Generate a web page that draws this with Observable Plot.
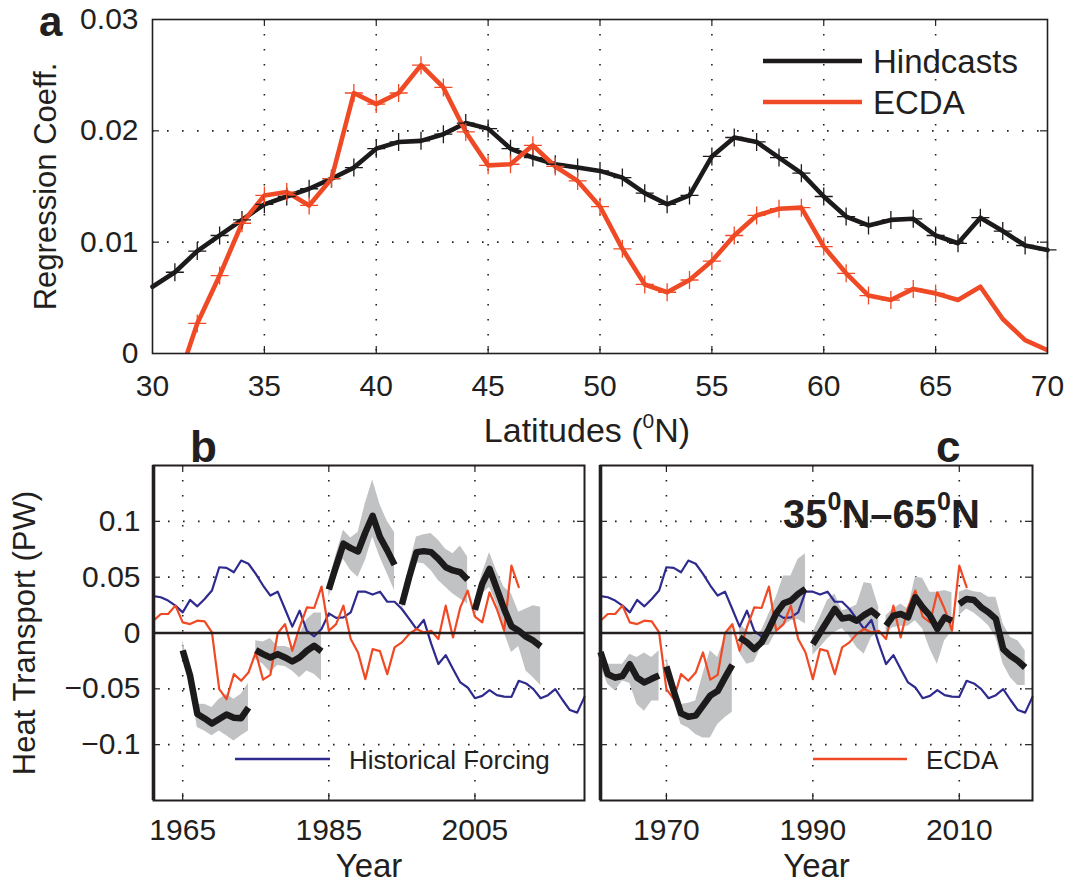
<!DOCTYPE html>
<html>
<head>
<meta charset="utf-8">
<script src="https://cdn.jsdelivr.net/npm/d3@7"></script>
<script src="https://cdn.jsdelivr.net/npm/@observablehq/plot@0.6"></script>
<style>
  body { margin: 0; background: #fff; }
  #wrap { position: relative; width: 1067px; height: 883px; background: #fff; overflow: hidden; }
  #wrap svg { position: absolute; }
</style>
</head>
<body>
<div id="wrap"></div>
<script>
// ---------------- Panel a data ----------------
const latitudes = d3.range(30, 71);
const hindcasts = [0.0060, 0.0073, 0.0092, 0.0106, 0.0120, 0.0134, 0.0141, 0.0148, 0.0157, 0.0167,
  0.0184, 0.0190, 0.0191, 0.0197, 0.0207, 0.0202, 0.0184, 0.0176, 0.0170, 0.0167,
  0.0164, 0.0158, 0.0144, 0.0134, 0.0142, 0.0177, 0.0194, 0.0190, 0.0176, 0.0162,
  0.0141, 0.0123, 0.0115, 0.0120, 0.0121, 0.0106, 0.0099, 0.0122, 0.0110, 0.0097, 0.0093];
const ecdaLat = [null, -0.0033, 0.0027, 0.0070, 0.0117, 0.0142, 0.0145, 0.0133, 0.0157, 0.0234,
  0.0224, 0.0234, 0.0259, 0.0239, 0.0199, 0.0169, 0.0170, 0.0187, 0.0168, 0.0155,
  0.0132, 0.0094, 0.0062, 0.0055, 0.0066, 0.0083, 0.0106, 0.0124, 0.0130, 0.0131,
  0.0096, 0.0072, 0.0052, 0.0048, 0.0058, 0.0054, 0.0048, 0.0060, 0.0031, 0.0012, 0.0003];
const latTicks = [30, 35, 40, 45, 50, 55, 60, 65, 70];
const coefTicks = [0, 0.01, 0.02, 0.03];
const coefTickLabels = ["0", "0.01", "0.02", "0.03"];

// ---------------- Panels b, c data ----------------
const years = d3.range(1961, 2021);
const historicalForcing = [0.033, 0.032, 0.029, 0.0245, 0.0185, 0.0296, 0.0239, 0.0305, 0.038, 0.0589,
  0.0583, 0.0544, 0.0649, 0.062, 0.053, 0.0425, 0.0335, 0.037, 0.0215, 0.0057,
  0.020, 0.002, -0.003, 0.0036, 0.0176, 0.0135, 0.014, 0.0185, 0.037, 0.037,
  0.0344, 0.037, 0.028, 0.028, 0.0215, 0.0126, 0.0036, 0.0117, -0.0093, -0.0278,
  -0.0198, -0.0323, -0.0443, -0.0488, -0.0584, -0.0563, -0.0512, -0.0557, -0.057, -0.0572,
  -0.0428, -0.0452, -0.0503, -0.0584, -0.0557, -0.0503, -0.060, -0.069, -0.0713, -0.0572];
const ecdaYears = d3.range(1961, 2012);
const ecdaTransport = [0.011, 0.017, 0.017, 0.0245, 0.0095, 0.008, 0.011, 0.0104, 0.0005, -0.0503,
  -0.0593, -0.0368, -0.0428, -0.0354, -0.0174, -0.0418, -0.0375, -0.0002, 0.008, -0.0159,
  0.005, 0.023, 0.0224, 0.0416, 0.002, 0.008, 0.0245, -0.0054, -0.0174, -0.0413,
  -0.0144, -0.0162, -0.0368, -0.0129, -0.0084, -0.0009, 0.0036, 0.0005, 0.002, -0.0054,
  0.0245, -0.004, 0.023, 0.038, 0.0146, 0.0095, 0.0364, 0.0215, 0.002, 0.0604, 0.041];

// panel b hindcasts (10-year runs starting 1965, 1975, 1985, 1995, 2005)
const hindBYears = d3.range(1965, 2015);
const hindB = [-0.0155, -0.038, -0.0725, -0.0765, -0.081, -0.077, -0.073, -0.0758, -0.0763, -0.0668,
  -0.0153, -0.0189, -0.0219, -0.0189, -0.0219, -0.0255, -0.0219, -0.0159, -0.0114, -0.0165,
  0.039, 0.060, 0.080, 0.076, 0.073, 0.090, 0.105, 0.086, 0.074, 0.061,
  0.0254, 0.050, 0.0724, 0.0733, 0.0724, 0.0664, 0.0589, 0.056, 0.0544, 0.0476,
  0.0206, 0.044, 0.0574, 0.0395, 0.0215, 0.006, 0.002, -0.0033, -0.0069, -0.012];
const hindBHigh = [-0.007, -0.033, -0.064, -0.0637, -0.0668, -0.0593, -0.0548, -0.0593, -0.0548, -0.0452,
  -0.007, -0.008, -0.005, -0.012, -0.012, -0.014, -0.002, 0.012, 0.018, 0.018,
  0.045, 0.070, 0.092, 0.085, 0.090, 0.116, 0.137, 0.115, 0.100, 0.090,
  0.030, 0.060, 0.086, 0.088, 0.089, 0.083, 0.075, 0.071, 0.078, 0.068,
  0.030, 0.053, 0.072, 0.055, 0.041, 0.035, 0.0185, 0.0215, 0.0245, 0.023];
const hindBLow = [-0.022, -0.045, -0.0847, -0.0877, -0.092, -0.0877, -0.092, -0.0967, -0.092, -0.0877,
  -0.024, -0.028, -0.0354, -0.029, -0.030, -0.034, -0.040, -0.034, -0.037, -0.043,
  0.032, 0.050, 0.066, 0.056, 0.050, 0.065, 0.086, 0.068, 0.053, 0.038,
  0.020, 0.040, 0.063, 0.062, 0.056, 0.047, 0.041, 0.035, 0.0305, 0.026,
  0.014, 0.035, 0.041, 0.026, 0.0005, -0.0174, -0.012, -0.034, -0.040, -0.047];

// panel c hindcasts (runs ending 1969, then decades 1970s ... 2010s)
const hindCYears = d3.range(1961, 2020);
const hindC = [-0.017, -0.037, -0.040, -0.0385, -0.028, -0.040, -0.0443, -0.041, -0.038,
  -0.030, -0.0518, -0.072, -0.075, -0.074, -0.065, -0.056, -0.052, -0.040, -0.0285,
  -0.004, -0.0084, -0.0144, -0.0084, 0.0036, 0.0176, 0.0266, 0.029, 0.035, 0.0395,
  -0.010, 0.0005, 0.011, 0.0215, 0.013, 0.014, 0.011, 0.016, 0.020, 0.0146,
  0.0066, 0.0155, 0.017, 0.014, 0.032, 0.023, 0.0155, 0.0036, 0.014, 0.011,
  0.026, 0.0305, 0.0296, 0.023, 0.0185, 0.0126, -0.0144, -0.0204, -0.0249, -0.0309];
const hindCHigh = [-0.0114, -0.028, -0.028, -0.028, -0.019, -0.022, -0.018, -0.022, -0.016,
  -0.022, -0.045, -0.064, -0.063, -0.061, -0.037, -0.016, -0.022, -0.004, 0.008,
  0.008, 0.002, -0.0024, 0.002, 0.017, 0.032, 0.051, 0.051, 0.066, 0.071,
  0.0, 0.014, 0.029, 0.035, 0.020, 0.022, 0.025, 0.045, 0.044, 0.023,
  0.0155, 0.0215, 0.026, 0.0215, 0.050, 0.049, 0.0364, 0.0364, 0.038, 0.036,
  0.0364, 0.039, 0.037, 0.036, 0.032, 0.032, 0.008, -0.004, -0.007, -0.016];
const hindCLow = [-0.030, -0.046, -0.052, -0.043, -0.045, -0.064, -0.070, -0.061, -0.061,
  -0.040, -0.061, -0.082, -0.085, -0.091, -0.094, -0.094, -0.082, -0.076, -0.071,
  -0.018, -0.028, -0.026, -0.0114, -0.011, 0.0006, 0.0066, 0.011, 0.012, 0.008,
  -0.020, -0.013, -0.0054, 0.0006, 0.004, -0.003, -0.013, -0.019, -0.004, 0.0006,
  0.0006, 0.005, 0.006, 0.006, 0.011, 0.0036, -0.0144, -0.028, -0.0069, 0.0015,
  0.0155, 0.0215, 0.018, 0.0126, 0.0066, -0.004, -0.028, -0.040, -0.047, -0.047];

const yearTicksB = [1965, 1985, 2005];
const yearTicksC = [1970, 1990, 2010];
const heatTicks = [-0.1, -0.05, 0, 0.05, 0.1];
const heatTickLabels = ["\u22120.1", "\u22120.05", "0", "0.05", "0.1"];

// ---------------- styling ----------------
const ink = "#231f20", red = "#ef4a25", blue = "#2e2a8e", gray = "#c1c2c4";
const font = '"Liberation Sans", Arial, Helvetica, sans-serif';
const baseStyle = {fontFamily: font, fontSize: "30px", color: ink, background: "transparent", overflow: "visible"};
const dotted = {stroke: ink, strokeOpacity: 1, strokeWidth: 1.6, strokeDasharray: "1.6,13.4"};

const plusSymbol = {
  draw(context, size) {
    const r = Math.sqrt(size / Math.PI);
    context.moveTo(-r, 0); context.lineTo(r, 0);
    context.moveTo(0, -r); context.lineTo(0, r);
  }
};

function frameTicks(xt, yt, W, H, m) {
  const pw = W - m.l - m.r, ph = H - m.t - m.b, L = 7;
  const o = {stroke: ink, strokeWidth: 1.2};
  return [
    Plot.tickX(xt, {x: d => d, insetTop: ph - L, ...o}),
    Plot.tickX(xt, {x: d => d, insetBottom: ph - L, ...o}),
    Plot.tickY(yt, {y: d => d, insetRight: pw - L, ...o}),
    Plot.tickY(yt, {y: d => d, insetLeft: pw - L, ...o})
  ];
}

const wrap = document.getElementById("wrap");

// ---------------- Panel a ----------------
const latTable = latitudes.map((lat, i) => ({lat, hind: hindcasts[i], ecda: ecdaLat[i]}));
const hindMarkers = latTable.filter(d => d.lat >= 31);
const ecdaMarkers = latTable.filter(d => d.lat >= 32 && d.lat <= 65);
const mA = {l: 152, r: 20, t: 19, b: 87}, WA = 1067, HA = 440;
const plotA = Plot.plot({
  width: WA, height: HA,
  marginLeft: mA.l, marginRight: mA.r, marginTop: mA.t, marginBottom: mA.b,
  x: {domain: [30, 70]},
  y: {domain: [0, 0.03]},
  style: baseStyle,
  marks: [
    Plot.gridX(latTicks.slice(1, -1), dotted),
    Plot.gridY(coefTicks.slice(1, -1), dotted),
    Plot.line(latTable, {x: "lat", y: "hind", stroke: "#1c1a1b", strokeWidth: 4.6}),
    Plot.line(latTable, {x: "lat", y: "ecda", stroke: red, strokeWidth: 4.6, clip: true}),
    Plot.dot(hindMarkers, {x: "lat", y: "hind", symbol: plusSymbol, r: 9, fill: "none", stroke: "#1c1a1b", strokeWidth: 1.3}),
    Plot.dot(ecdaMarkers, {x: "lat", y: "ecda", symbol: plusSymbol, r: 9, fill: "none", stroke: red, strokeWidth: 1.3, clip: true}),
    ...frameTicks(latTicks.slice(1, -1), coefTicks.slice(1, -1), WA, HA, mA),
    Plot.frame({stroke: ink, strokeWidth: 1.6}),
    Plot.axisX(latTicks, {label: null, tickSize: 0, tickPadding: 21, tickFormat: d => String(d)}),
    Plot.axisY(coefTicks, {label: null, tickSize: 0, tickPadding: 14, tickFormat: d => coefTickLabels[coefTicks.indexOf(d)]}),
    Plot.text(["Regression Coeff."], {frameAnchor: "left", textAnchor: "middle", lineAnchor: "middle", dx: -106, rotate: -90, fontSize: 31, fill: ink})
  ]
});
plotA.style.left = "0px"; plotA.style.top = "0px";
wrap.appendChild(plotA);

// ---------------- Panels b & c ----------------
const forcingTable = years.map((year, i) => ({year, v: historicalForcing[i]}));
const ecdaTable = ecdaYears.map((year, i) => ({year, v: ecdaTransport[i]}));
const hindBTable = hindBYears.map((year, i) => ({year, v: hindB[i], lo: hindBLow[i], hi: hindBHigh[i], seg: Math.floor((year - 1965) / 10)}));
const hindCTable = hindCYears.map((year, i) => ({year, v: hindC[i], lo: hindCLow[i], hi: hindCHigh[i], seg: year < 1970 ? 0 : Math.floor((year - 1960) / 10)}));
const yearDomain = [1961, 2020];

function heatPanel({table, xTicks, W, H, m, yLabels}) {
  return Plot.plot({
    width: W, height: H,
    marginLeft: m.l, marginRight: m.r, marginTop: m.t, marginBottom: m.b,
    x: {domain: yearDomain, axis: null},
    y: {domain: [-0.15, 0.15], axis: null},
    style: baseStyle,
    marks: [
      Plot.gridX(xTicks, dotted),
      Plot.gridY(heatTicks.filter(d => d !== 0), dotted),
      Plot.areaY(table, {x: "year", y1: "lo", y2: "hi", z: "seg", fill: gray, curve: "linear"}),
      Plot.line(forcingTable, {x: "year", y: "v", stroke: blue, strokeWidth: 2.2}),
      Plot.line(ecdaTable, {x: "year", y: "v", stroke: red, strokeWidth: 2.2}),
      Plot.ruleY([0], {stroke: ink, strokeWidth: 2.6}),
      Plot.line(table, {x: "year", y: "v", z: "seg", stroke: "#1c1a1b", strokeWidth: 6.5, strokeLinejoin: "round", strokeLinecap: "butt"}),
      ...frameTicks(xTicks, heatTicks.filter(d => d !== 0), W, H, m),
      Plot.frame({stroke: ink, strokeWidth: 2}),
      Plot.ruleX([yearDomain[0]], {stroke: ink, strokeWidth: 3.6}),
      Plot.axisX(xTicks, {label: null, tickSize: 0, tickPadding: 18, tickFormat: d => String(d)}),
      yLabels ? Plot.axisY(heatTicks, {label: null, tickSize: 0, tickPadding: 13, tickFormat: d => heatTickLabels[heatTicks.indexOf(d)]}) : null,
      yLabels ? Plot.text(["Heat Transport (PW)"], {frameAnchor: "left", textAnchor: "middle", lineAnchor: "middle", dx: -128, rotate: -90, fontSize: 31, fill: ink}) : null,
      Plot.text(["Year"], {frameAnchor: "bottom", lineAnchor: "middle", dy: 66, fontSize: 33, fill: ink})
    ]
  });
}

const plotB = heatPanel({table: hindBTable, xTicks: yearTicksB, W: 595, H: 443, m: {l: 153, r: 11, t: 25, b: 83}, yLabels: true});
plotB.style.left = "0px"; plotB.style.top = "440px";
wrap.appendChild(plotB);

const plotC = heatPanel({table: hindCTable, xTicks: yearTicksC, W: 472, H: 443, m: {l: 5, r: 35, t: 25, b: 83}, yLabels: false});
plotC.style.left = "595px"; plotC.style.top = "440px";
wrap.appendChild(plotC);

// ---------------- annotations: panel letters, legends, labels ----------------
const ann = d3.create("svg").attr("width", 1067).attr("height", 883)
  .style("left", "0px").style("top", "0px").style("pointer-events", "none")
  .attr("font-family", font).attr("fill", ink);

ann.append("text").attr("x", 39).attr("y", 36).attr("font-size", 42).attr("font-weight", "bold").text("a");
ann.append("text").attr("x", 190).attr("y", 462).attr("font-size", 44).attr("font-weight", "bold").text("b");
ann.append("text").attr("x", 936).attr("y", 462).attr("font-size", 44).attr("font-weight", "bold").text("c");

const lat = ann.append("text").attr("x", 587).attr("y", 442).attr("font-size", 34).attr("text-anchor", "middle");
lat.append("tspan").text("Latitudes (");
lat.append("tspan").attr("font-size", 21).attr("dy", -14).text("0");
lat.append("tspan").attr("dy", 14).text("N)");

const reg = ann.append("text").attr("x", 783).attr("y", 528).attr("font-size", 40).attr("font-weight", "bold");
reg.append("tspan").text("35");
reg.append("tspan").attr("font-size", 25).attr("dy", -18).text("0");
reg.append("tspan").attr("dy", 18).text("N\u201365");
reg.append("tspan").attr("font-size", 25).attr("dy", -18).text("0");
reg.append("tspan").attr("dy", 18).text("N");

// legend a
const legendA = [{name: "Hindcasts", color: "#1c1a1b", y: 61}, {name: "ECDA", color: red, y: 102}];
legendA.forEach(d => {
  ann.append("line").attr("x1", 763).attr("x2", 862).attr("y1", d.y).attr("y2", d.y).attr("stroke", d.color).attr("stroke-width", 4.6);
  ann.append("text").attr("x", 873).attr("y", d.y + 12).attr("font-size", 33).text(d.name);
});
// legend b / c
ann.append("line").attr("x1", 235).attr("x2", 330).attr("y1", 759).attr("y2", 759).attr("stroke", blue).attr("stroke-width", 2.4);
ann.append("text").attr("x", 349).attr("y", 769).attr("font-size", 26).text("Historical Forcing");
ann.append("line").attr("x1", 813).attr("x2", 907).attr("y1", 759).attr("y2", 759).attr("stroke", red).attr("stroke-width", 2.4);
ann.append("text").attr("x", 926).attr("y", 769).attr("font-size", 26).text("ECDA");

wrap.appendChild(ann.node());
</script>
</body>
</html>
